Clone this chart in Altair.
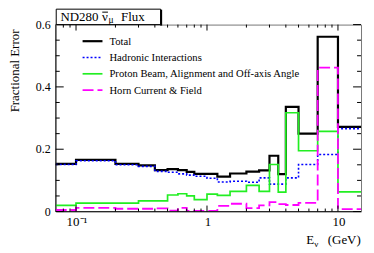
import altair as alt
import pandas as pd

# ---------------- data ----------------
bin_edges = [0.07, 0.1, 0.2, 0.3, 0.4, 0.5, 0.6, 0.7, 0.8, 1.0, 1.2, 1.5,
             2.0, 2.5, 3.0, 3.5, 4.0, 5.0, 7.0, 10.0, 15.0]
series_names = ["Total", "Hadronic Interactions",
                "Proton Beam, Alignment and Off-axis Angle",
                "Horn Current & Field"]
total = [0.153, 0.166, 0.153, 0.148, 0.133, 0.136, 0.133, 0.127, 0.121, 0.121,
         0.112, 0.122, 0.128, 0.132, 0.179, 0.120, 0.336, 0.250, 0.561, 0.272]
hadronic = [0.151, 0.163, 0.150, 0.145, 0.129, 0.126, 0.121, 0.117, 0.113, 0.107,
            0.095, 0.097, 0.094, 0.108, 0.088, 0.088, 0.108, 0.151, 0.183, 0.266]
proton = [0.020, 0.027, 0.027, 0.034, 0.034, 0.053, 0.057, 0.050, 0.038, 0.056,
          0.052, 0.065, 0.084, 0.065, 0.151, 0.062, 0.317, 0.195, 0.257, 0.063]
horn = [0.005, 0.012, 0.009, 0.009, 0.010, 0.003, 0.012, 0.002, 0.002, 0.002,
        0.018, 0.025, 0.011, 0.020, 0.030, 0.024, 0.021, 0.028, 0.462, 0.008]

x_major_ticks = [0.1, 1, 10]
x_minor_ticks = [0.08, 0.09, 0.2, 0.3, 0.4, 0.5, 0.6, 0.7, 0.8, 0.9,
                 2, 3, 4, 5, 6, 7, 8, 9]
x_tick_labels = ["10\u207b\u00b9", "1", "10"]
y_major_ticks = [0, 0.2, 0.4, 0.6]
y_minor_ticks = [0.05, 0.1, 0.15, 0.25, 0.3, 0.35, 0.45, 0.5, 0.55]
y_tick_labels = ["0", "0.2", "0.4", "0.6"]

# ---------------- table ----------------
all_values = [total, hadronic, proton, horn]
rows = []
for name, vals in zip(series_names, all_values):
    pts = vals + [vals[-1]]
    for e, v in zip(bin_edges, pts):
        rows.append({"series": name, "x": e, "value": v})
df = pd.DataFrame(rows)

# ---------------- layout / style ----------------
W, H = 307, 188
FONT = "Liberation Serif"
styles = [
    dict(color="#000000", strokeWidth=2.2),
    dict(color="#0000ff", strokeWidth=1.6, strokeDash=[2, 2]),
    dict(color="#22ee22", strokeWidth=1.7),
    dict(color="#ff00ff", strokeWidth=1.8, strokeDash=[11, 4]),
]

xscale = alt.Scale(type="log", domain=[bin_edges[0], bin_edges[-1]])
yscale = alt.Scale(domain=[0, 0.6])

layers = []
for name, st in zip(series_names, styles):
    layers.append(
        alt.Chart(df).transform_filter(alt.datum.series == name)
        .mark_line(interpolate="step-after", **st)
        .encode(x=alt.X("x:Q", scale=xscale, axis=None),
                y=alt.Y("value:Q", scale=yscale, axis=None))
    )

one = pd.DataFrame({"k": [0]})
# axis lines (left / bottom)
layers.append(alt.Chart(one).mark_rule(color="#222", strokeWidth=1).encode(
    x=alt.value(0), y=alt.value(0), y2=alt.value(H)))
layers.append(alt.Chart(one).mark_rule(color="#222", strokeWidth=1).encode(
    x=alt.value(0), x2=alt.value(W), y=alt.value(H)))


# inward ticks on all four sides
def xticks(vals, L):
    d = pd.DataFrame({"x": vals})
    bot = alt.Chart(d).mark_rule(color="#000", strokeWidth=1).encode(
        x=alt.X("x:Q", scale=xscale, axis=None), y=alt.value(H), y2=alt.value(H - L))
    top = alt.Chart(d).mark_rule(color="#000", strokeWidth=1).encode(
        x=alt.X("x:Q", scale=xscale, axis=None), y=alt.value(0), y2=alt.value(L))
    return [bot, top]


def yticks(vals, L):
    d = pd.DataFrame({"y": vals})
    left = alt.Chart(d).mark_rule(color="#000", strokeWidth=1).encode(
        y=alt.Y("y:Q", scale=yscale, axis=None), x=alt.value(0), x2=alt.value(L))
    right = alt.Chart(d).mark_rule(color="#000", strokeWidth=1).encode(
        y=alt.Y("y:Q", scale=yscale, axis=None), x=alt.value(W), x2=alt.value(W - L))
    return [left, right]


layers += xticks(x_major_ticks, 6) + xticks(x_minor_ticks, 3)
layers += yticks(y_major_ticks, 8) + yticks(y_minor_ticks, 4)

# tick labels through the scales
xl = pd.DataFrame({"x": x_major_ticks, "lab": x_tick_labels})
layers.append(alt.Chart(xl).mark_text(font=FONT, fontSize=13, align="center",
                                      baseline="top", color="#000", dx=1).encode(
    x=alt.X("x:Q", scale=xscale, axis=None), y=alt.value(H + 5), text="lab:N"))
yl = pd.DataFrame({"y": y_major_ticks, "lab": y_tick_labels})
layers.append(alt.Chart(yl).mark_text(font=FONT, fontSize=12, align="right",
                                      baseline="middle", color="#000").encode(
    y=alt.Y("y:Q", scale=yscale, axis=None), x=alt.value(-5), text="lab:N"))

# legend (manual)
leg_x0, leg_x1, leg_tx, leg_y0, leg_dy = 27, 47, 54, 16.7, 16.4
for i, (name, st) in enumerate(zip(series_names, styles)):
    d = pd.DataFrame({"series": [name]})
    yy = leg_y0 + i * leg_dy
    layers.append(alt.Chart(d).mark_rule(**st).encode(
        x=alt.value(leg_x0), x2=alt.value(leg_x1), y=alt.value(yy)))
    layers.append(alt.Chart(d).mark_text(font=FONT, fontSize=10.7, align="left",
                                         baseline="middle", color="#000").encode(
        x=alt.value(leg_tx), y=alt.value(yy + 0.5), text="series:N"))

# title box
layers.append(alt.Chart(one).mark_rect(fill="white", stroke="#000", strokeWidth=1).encode(
    x=alt.value(0.5), x2=alt.value(105.5), y=alt.value(-15.5), y2=alt.value(0)))
layers.append(alt.Chart(one).mark_rule(color="#000", strokeWidth=2).encode(
    x=alt.value(106), y=alt.value(-15), y2=alt.value(1)))


def txt(s, x, y, size, align="left", angle=0, baseline="alphabetic"):
    kw = dict(font=FONT, fontSize=size, align=align, baseline=baseline, color="#000")
    if angle:
        kw["angle"] = angle
    return alt.Chart(pd.DataFrame({"t": [s]})).mark_text(**kw).encode(
        x=alt.value(x), y=alt.value(y), text="t:N")


layers.append(txt("ND280", 4.7, -4, 13))
layers.append(txt("\u03bd", 46.5, -4, 13))
layers.append(alt.Chart(one).mark_rule(color="#000", strokeWidth=1).encode(
    x=alt.value(46.8), x2=alt.value(52.5), y=alt.value(-12.5)))
layers.append(txt("\u03bc", 53, -1.5, 9.5))
layers.append(txt("Flux", 65.7, -4, 13))

# axis titles
layers.append(txt("Fractional Error", -41, 5, 13, align="right", angle=270, baseline="middle"))
layers.append(txt("E", 252, 221, 13))
layers.append(txt("\u03bd", 260, 224, 9))
layers.append(txt("(GeV)", 306.7, 221, 13, align="right"))

chart = alt.layer(*layers).properties(
    width=W, height=H,
    autosize=alt.AutoSizeParams(type="none"),
    padding={"left": 48, "top": 16, "right": 5, "bottom": 38},
).configure_view(stroke="#777", strokeWidth=1)

chart.save("out.html", embed_options={"renderer": "svg", "actions": False})
